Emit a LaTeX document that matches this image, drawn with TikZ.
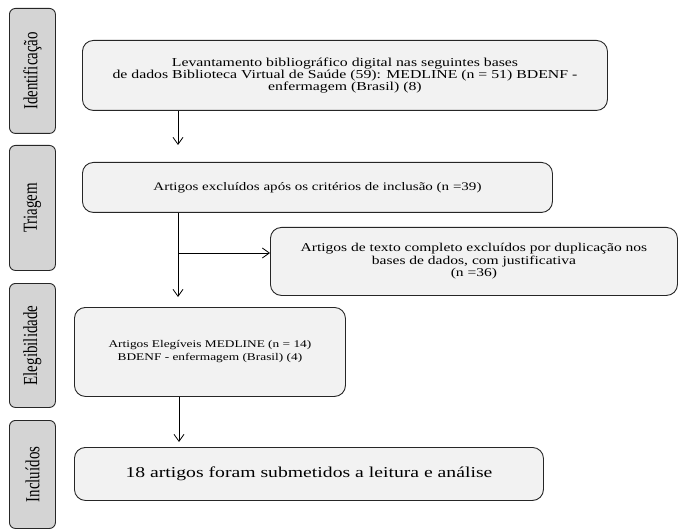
\documentclass[tikz,border=0pt]{standalone}
\usepackage{fontspec}
\usepackage{tikz}
\usetikzlibrary{arrows.meta, positioning}
\newfontfamily\boxfont{Liberation Serif}[FakeStretch=1.3]
\newfontfamily\sidefont{Liberation Serif}[FakeStretch=0.75]
\definecolor{boxgray}{HTML}{F2F2F2}
\definecolor{sidegray}{HTML}{D4D4D4}

\begin{document}
\begin{tikzpicture}[x=1bp, y=-1bp,
	etapa/.style={draw=black!85, line width=0.9bp, fill=sidegray, rounded corners=6bp,
		anchor=north west, minimum width=46bp, inner sep=0pt},
	caixa/.style={draw=black!85, line width=0.9bp, fill=boxgray, rounded corners=11bp,
		anchor=north west, align=center, inner sep=0pt, font=\boxfont\fontsize{11.6}{12.5}\selectfont},
	seta/.style={-{Straight Barb[length=7bp, width=10bp]}, line width=0.8bp}]
	\useasboundingbox (0,0) rectangle (678,531);
	
	% fases
	\node[etapa, minimum height=125bp] (ident) at (9,8) {};
	\node[etapa, minimum height=125bp] (triag) at (9,145) {};
	\node[etapa, minimum height=124bp] (elegi) at (9,283) {};
	\node[etapa, minimum height=108bp] (inclu) at (9,420) {};
	\foreach \n/\t in {ident/Identificação, triag/Triagem, elegi/Elegibilidade, inclu/Incluídos}
		\node[rotate=90, font=\sidefont\fontsize{20}{22}\selectfont] at (\n.center) {\t};
	
	% caixas
	\node[caixa, minimum width=525bp, minimum height=70bp,
		font=\boxfont\fontsize{12.2}{12}\selectfont] (busca) at (82,40)
		{Levantamento bibliográfico digital nas seguintes bases\\
		 de dados Biblioteca Virtual de Saúde (59): MEDLINE (n = 51) BDENF -\\
		 enfermagem (Brasil) (8)};
	\node[caixa, minimum width=470bp, minimum height=50bp] (excl) at (82,162)
		{Artigos excluídos após os critérios de inclusão (n =39)};
	\node[caixa, minimum width=407bp, minimum height=68bp,
		font=\boxfont\fontsize{12}{12.5}\selectfont] (dupl) at (270,227)
		{Artigos de texto completo excluídos por duplicação nos\\
		 bases de dados, com justificativa\\
		 (n =36)};
	\node[caixa, minimum width=271bp, minimum height=89bp,
		font=\boxfont\fontsize{10.3}{13}\selectfont] (eleg) at (74,307)
		{Artigos Elegíveis MEDLINE (n = 14)\\
		 BDENF - enfermagem (Brasil) (4)};
	\node[caixa, minimum width=469bp, minimum height=53bp,
		font=\boxfont\fontsize{15.2}{16}\selectfont] (final) at (74,447)
		{18 artigos foram submetidos a leitura e análise};
	
	% setas
	\coordinate (p1) at (178,145);
	\coordinate (p2) at (178,297);
	\coordinate (r) at (178,253);
	\coordinate (p3) at (179,442);
	\draw[seta] (p1 |- busca.south) -- (p1);
	\draw[seta] (p2 |- excl.south) -- (p2);
	\draw[seta] (r) -- (r -| dupl.west);
	\draw[seta] (p3 |- eleg.south) -- (p3);
\end{tikzpicture}
\end{document}
